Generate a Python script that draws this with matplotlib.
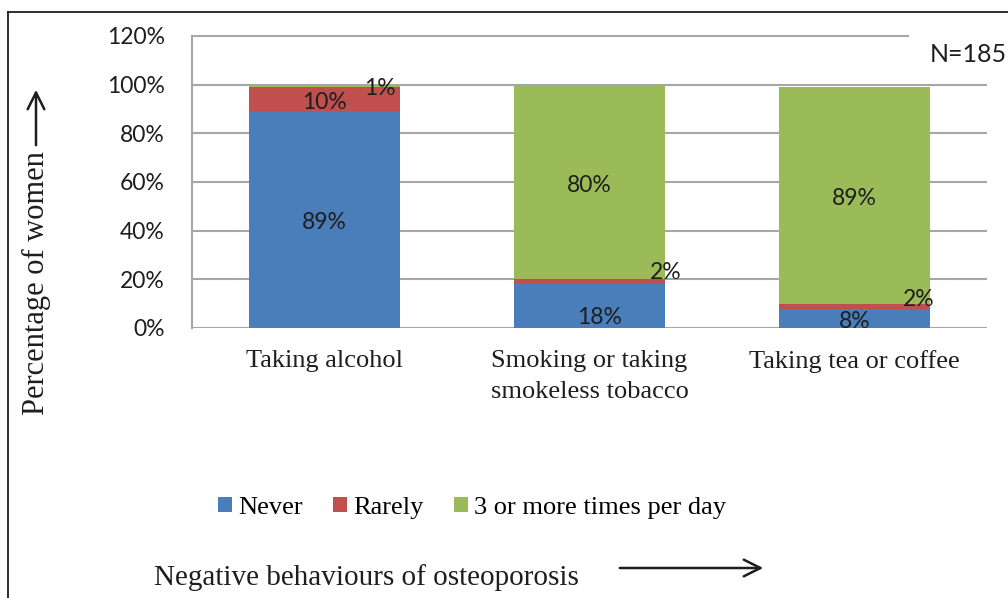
import matplotlib
matplotlib.use("Agg")
import matplotlib.pyplot as plt
from matplotlib.patches import Patch, FancyArrowPatch
from matplotlib.lines import Line2D
from matplotlib.ticker import PercentFormatter

categories = ["Taking alcohol", "Smoking or taking\nsmokeless tobacco", "Taking tea or coffee"]
series_names = ["Never", "Rarely", "3 or more times per day"]
never = [89, 18, 8]
rarely = [10, 2, 2]
daily = [1, 80, 89]
yticks = [0, 20, 40, 60, 80, 100, 120]

colors = ["#4A7EBB", "#C0504D", "#9BBB59"]
sans = ["Lato", "DejaVu Sans"]
serif = ["Liberation Serif", "DejaVu Serif"]
ink = "#1E1E1E"

W, H, DPI = 1008, 598, 100
fig = plt.figure(figsize=(W / DPI, H / DPI), dpi=DPI)

def px(x0, y0, x1, y1):
    return [x0 / W, 1 - y1 / H, (x1 - x0) / W, (y1 - y0) / H]

ax = fig.add_axes(px(192, 36, 987, 328))
xs = list(range(len(categories)))
series = [never, rarely, daily]
bottoms = [0] * len(categories)
stacks = []
for vals, col in zip(series, colors):
    ax.bar(xs, vals, bottom=bottoms, width=0.57, color=col, zorder=3)
    stacks.append((vals, list(bottoms)))
    bottoms = [a + v for a, v in zip(bottoms, vals)]

# label offsets (points) for the thin segments that were nudged aside
offsets = {(0, 2): (40, 0), (1, 1): (55, 9), (1, 0): (7, -6), (2, 1): (46, 7), (2, 0): (0, 0)}
for si, (vals, bots) in enumerate(stacks):
    for ci, (v, b0) in enumerate(zip(vals, bots)):
        dx, dy = offsets.get((ci, si), (0, 0))
        ax.annotate(f"{v}%", (ci, b0 + v / 2), xytext=(dx, dy - 2.2), textcoords="offset points",
                    ha="center", va="center", fontsize=16.5, family=sans, color=ink, zorder=5)

ax.set_xlim(-0.5, 2.5)
ax.set_ylim(0, 120)
ax.set_yticks(yticks)
ax.yaxis.set_major_formatter(PercentFormatter(decimals=0))
ax.tick_params(axis="y", length=0, pad=19.5, labelsize=16.5)
for lab in ax.get_yticklabels():
    lab.set_family(sans)
    lab.set_color(ink)
ax.set_xticks(xs)
ax.set_xticklabels(categories, family=serif, fontsize=19, color=ink, linespacing=1.55)
ax.tick_params(axis="x", length=0, pad=15.5)

grid_c = "#A6A6A6"
for y in yticks[:-1]:
    ax.axhline(y, color=grid_c, lw=1.5, zorder=1)
ax.plot([-0.5, 2.5 - 79 / 265], [120, 120], color=grid_c, lw=1.5, zorder=1, clip_on=False)
for s in ["top", "right", "bottom"]:
    ax.spines[s].set_visible(False)
ax.spines["left"].set_color(grid_c)
ax.spines["left"].set_linewidth(1.5)

fig.text(930 / W, 1 - 55 / H, "N=185", family=sans, fontsize=18, color=ink, va="center", ha="left")

# y label with upward arrow
fig.text(36 / W, 1 - 283 / H, "Percentage of women", rotation=90, family=serif, fontsize=22,
         ha="center", va="center", color=ink)
fig.add_artist(FancyArrowPatch((36 / W, 1 - 148 / H), (36 / W, 1 - 87 / H),
               transform=fig.transFigure, arrowstyle="->,head_length=12,head_width=6", lw=1.8,
               color=ink, mutation_scale=1))

# x label with right arrow
fig.text(366 / W, 1 - 578 / H, "Negative behaviours of osteoporosis", family=serif, fontsize=21,
         ha="center", va="center", color=ink)
fig.add_artist(FancyArrowPatch((617 / W, 1 - 568 / H), (766 / W, 1 - 568 / H),
               transform=fig.transFigure, arrowstyle="->,head_length=12,head_width=6", lw=1.8,
               color=ink, mutation_scale=1))

handles = [Patch(facecolor=c, edgecolor="none") for c in colors]
fig.legend(handles, series_names, loc="center", bbox_to_anchor=(472 / W, 1 - 508 / H), ncol=3,
           frameon=False, prop={"family": serif, "size": 19}, handlelength=0.53, handleheight=0.53,
           handletextpad=0.23, columnspacing=1.15)

# outer frame
fig.add_artist(Line2D([8 / W, 1], [1 - 12 / H, 1 - 12 / H], transform=fig.transFigure, color=ink, lw=1.3))
fig.add_artist(Line2D([8 / W, 8 / W], [0, 1 - 12 / H], transform=fig.transFigure, color=ink, lw=1.3))

fig.savefig("out.png", dpi=DPI)
